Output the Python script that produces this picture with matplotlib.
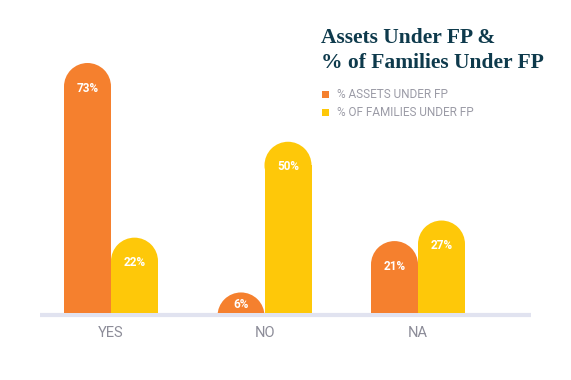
"""Assets under FP vs families under FP, rounded-top grouped bars."""

import matplotlib

matplotlib.use("Agg")
import matplotlib.pyplot as plt
from matplotlib.patches import Ellipse

CATEGORIES = ["YES", "NO", "NA"]
ASSETS = [73, 6, 21]
FAMILIES = [22, 50, 27]
SERIES_NAMES = ["% ASSETS UNDER FP", "% OF FAMILIES UNDER FP"]
TITLE = "Assets Under FP &\n% of Families Under FP"

ORANGE = "#f5802e"
YELLOW = "#fec809"
AXIS_LINE = "#e1e3f0"
TICK_GREY = "#8c8c98"
LEGEND_GREY = "#9b9ba6"
TITLE_COLOR = "#0e3a4c"

W, H = 571, 380
DPI = 100


def px(x, y):
    """pixel (from top-left) -> figure fraction"""
    return x / W, 1 - y / H


fig = plt.figure(figsize=(W / DPI, H / DPI), dpi=DPI, facecolor="white")

# axes spans x 40..531 px, baseline at y=313, top at y=20
ax_left, ax_right, ax_base, ax_top = 40, 531, 313, 20
ax = fig.add_axes([ax_left / W, 1 - ax_base / H, (ax_right - ax_left) / W, (ax_base - ax_top) / H])
ax.axis("off")

group_px = 153.5
first_px = 111
xmin = (ax_left - first_px) / group_px
xmax = (ax_right - first_px) / group_px
ymax = 73 * (ax_base - ax_top) / 250
ax.set_xlim(xmin, xmax)
ax.set_ylim(0, ymax)

bar_w = 47 / group_px
px_per_unit_y = (ax_base - ax_top) / ymax
cap_ry = 23.5 / px_per_unit_y


def rounded_bar(xc, value, color):
    rect_h = max(value - cap_ry, 0)
    ax.bar(xc, rect_h, width=bar_w, color=color, linewidth=0, zorder=2)
    ax.add_patch(
        Ellipse((xc, value - cap_ry), bar_w, 2 * cap_ry, facecolor=color, edgecolor="none", zorder=2)
    )
    dy = -25 if value * px_per_unit_y > 40 else -(value * px_per_unit_y) + 9
    ax.annotate(
        f"{value}%",
        (xc, value),
        xytext=(0, dy),
        textcoords="offset pixels",
        ha="center",
        va="center",
        color="white",
        fontsize=8.5,
        fontweight="bold",
        family="Roboto",
        zorder=3,
    )


for i, (a, f) in enumerate(zip(ASSETS, FAMILIES)):
    rounded_bar(i - bar_w / 2, a, ORANGE)
    rounded_bar(i + bar_w / 2, f, YELLOW)

# baseline
ax.plot([xmin, xmax], [-2 / px_per_unit_y] * 2, color=AXIS_LINE, lw=3, solid_capstyle="butt",
        clip_on=False, zorder=1)

for i, cat in enumerate(CATEGORIES):
    fx, fy = px(first_px + i * group_px, 333)
    fig.text(fx, fy, cat, ha="center", va="center", fontsize=10.5, color=TICK_GREY, family="Roboto")

# title
for line, y in zip(TITLE.split("\n"), [43, 68]):
    tx, ty = px(321, y)
    fig.text(tx, ty, line, ha="left", va="baseline", fontsize=15.5,
             family="Liberation Serif", fontweight="bold", color=TITLE_COLOR)

# legend
for name, color, y in zip(SERIES_NAMES, [ORANGE, YELLOW], [94, 112]):
    sx, sy = px(322, y + 3.5)
    fig.patches.append(
        plt.Rectangle((sx, sy), 7 / W, 7 / H, transform=fig.transFigure, facecolor=color,
                      edgecolor="none", figure=fig)
    )
    lx, ly = px(337, y)
    fig.text(lx, ly, name, ha="left", va="center", fontsize=8.5, color=LEGEND_GREY, family="Roboto")

fig.savefig("out.png", dpi=DPI, facecolor="white")
